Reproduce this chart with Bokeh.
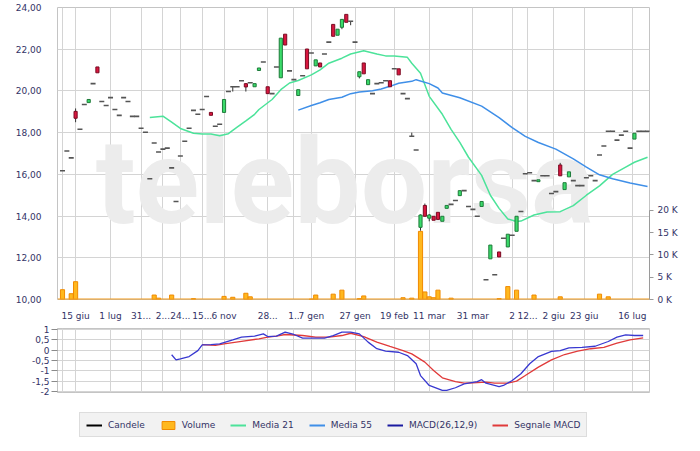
from bokeh.plotting import figure
from bokeh.models import (Range1d, LinearAxis, FixedTicker, Span, Legend, LegendItem, Label)
from bokeh.layouts import column
from bokeh.embed import file_html
from bokeh.resources import INLINE

# ---------------- data ----------------
opens = [16.17, 17.12, 16.79, 19.02, 18.16, 19.35, 19.44, 20.35, 21.15, 19.49,
         19.30, 19.68, 19.11, 18.83, 19.68, 19.49, 18.78, 18.78, 18.21, 18.02,
         15.79, 17.50, 17.07, 17.21, 17.26, 16.31, 14.70, 16.88, 17.59, 18.21,
         19.07, 18.88, 19.11, 19.73, 18.97, 18.31, 18.40, 18.97, 19.97, 20.20,
         20.20, 20.49, 20.35, 20.39, 20.20, 20.98, 21.39, 20.20, 19.87, 21.15,
         20.63, 22.72, 20.96, 20.54, 19.78, 20.73, 22.01, 21.82, 21.20, 21.34,
         21.77, 22.34, 23.19, 22.67, 23.05, 23.67, 23.34, 22.34, 20.68, 21.34,
         20.30, 19.87, 20.35, 20.39, 20.49, 20.49, 21.06, 21.06, 19.87, 19.63,
         17.83, 17.17, 13.46, 14.51, 13.90, 13.99, 14.18, 13.75, 14.37, 14.56,
         14.75, 14.98, 15.22, 14.46, 14.32, 13.99, 14.46, 10.95, 11.95, 11.19,
         12.28, 12.94, 12.52, 13.08, 13.27, 14.22, 16.03, 16.08, 15.70, 15.65,
         15.93, 15.93, 15.08, 15.17, 16.45, 15.27, 15.88, 15.70, 15.46, 15.46,
         15.84, 15.93, 15.70, 16.93, 17.36, 18.07, 18.07, 17.64, 17.88, 18.07,
         17.26, 17.69, 18.07, 18.07, 18.07]
closes = [16.17, 17.12, 16.79, 18.69, 18.16, 19.35, 19.59, 20.35, 20.87, 19.49,
          19.30, 19.68, 19.11, 18.83, 19.68, 19.49, 18.78, 18.78, 18.21, 18.02,
          15.79, 17.50, 17.07, 17.21, 17.26, 16.31, 14.70, 16.88, 17.59, 18.21,
          19.07, 18.88, 19.11, 19.73, 18.83, 18.31, 18.40, 19.59, 19.97, 20.20,
          20.20, 20.49, 20.19, 20.39, 20.35, 21.10, 21.39, 19.87, 19.87, 21.15,
          22.53, 22.20, 20.96, 20.54, 20.06, 20.73, 21.06, 21.82, 21.49, 21.15,
          21.77, 22.34, 22.62, 22.96, 23.43, 23.29, 23.34, 22.34, 20.92, 20.82,
          20.54, 19.87, 20.35, 20.39, 20.49, 20.20, 21.06, 20.77, 19.87, 19.63,
          17.83, 17.17, 14.05, 13.99, 14.05, 13.80, 13.84, 13.99, 14.51, 14.56,
          14.75, 15.22, 15.22, 14.46, 14.32, 13.99, 14.70, 10.95, 12.61, 11.19,
          12.04, 12.94, 13.13, 13.08, 13.99, 14.22, 16.03, 16.08, 15.70, 15.74,
          15.93, 15.93, 15.08, 15.17, 15.93, 15.60, 16.12, 15.70, 15.46, 15.46,
          15.84, 15.93, 15.70, 16.93, 17.36, 18.07, 18.07, 17.64, 17.88, 18.07,
          17.26, 17.97, 18.07, 18.07, 18.07]
high_wicks = {3: 19.16, 80: 18.00, 82: 14.08, 83: 14.60, 84: 14.10, 114: 16.55}
low_wicks = {3: 18.50, 39: 19.97, 42: 19.97, 64: 22.96, 66: 23.15, 68: 20.60, 82: 13.30, 84: 13.75}

volumes = [2200, 0, 1300, 4000, 0, 0, 0, 0, 0, 0, 0, 0, 0, 0, 0,
           0, 0, 0, 0, 0, 0, 1000, 300, 0, 0, 1000, 0, 0, 0, 0,
           200, 0, 0, 0, 0, 0, 0, 700, 0, 500, 0, 0, 1400, 600, 0,
           0, 0, 0, 0, 0, 0, 0, 0, 0, 0, 0, 0, 100, 1000, 0,
           0, 0, 1200, 0, 2100, 0, 0, 0, 200, 800, 0, 0, 0, 0, 0,
           0, 0, 0, 400, 0, 300, 0, 15300, 1700, 600, 400, 2100, 0, 0, 300,
           0, 0, 0, 0, 0, 0, 0, 0, 0, 0, 200, 0, 2900, 0, 2100,
           0, 0, 0, 1000, 0, 0, 0, 0, 0, 600, 0, 0, 0, 0, 0,
           0, 0, 0, 1200, 0, 600, 0, 0, 0, 0, 0, 0, 0, 0, 0]

ma21_idx = [20, 23, 25, 27, 30, 32, 34, 36, 38, 40, 42, 44, 45, 48, 50, 52, 54, 57, 59, 61,
            64, 66, 69, 72, 74, 76, 79, 80, 82, 84, 87, 89, 91, 93, 96, 98, 100, 102, 104, 105,
            108, 111, 114, 117, 120, 123, 126, 129, 131, 134]
ma21_val = [18.73, 18.79, 18.50, 18.20, 17.97, 17.93, 17.93, 17.85, 17.95, 18.26, 18.56, 18.88,
            19.11, 19.59, 20.06, 20.38, 20.50, 20.77, 21.01, 21.33, 21.57, 21.77, 21.93, 21.77,
            21.68, 21.68, 21.61, 21.33, 20.85, 19.74, 18.88, 18.16, 17.53, 16.82, 15.95, 15.00,
            14.37, 13.86, 13.74, 13.76, 14.05, 14.20, 14.21, 14.50, 15.00, 15.45, 16.00, 16.35,
            16.58, 16.82]
ma55_idx = [54, 57, 59, 61, 64, 66, 68, 71, 73, 75, 77, 80, 81, 84, 86, 87, 91, 96, 100, 103,
            106, 109, 113, 117, 120, 123, 126, 130, 134]
ma55_val = [19.08, 19.30, 19.43, 19.59, 19.70, 19.87, 19.95, 20.01, 20.09, 20.22, 20.37, 20.46,
            20.54, 20.35, 20.14, 19.90, 19.67, 19.27, 18.72, 18.24, 17.82, 17.53, 17.21, 16.74,
            16.35, 15.98, 15.79, 15.59, 15.42]

macd_idx = [25, 26, 27, 29, 31, 32, 34, 36, 39, 41, 44, 46, 47, 49, 51, 53, 55, 58, 60, 62,
            64, 66, 68, 70, 72, 74, 77, 79, 81, 82, 84, 87, 88, 90, 92, 95, 96, 97, 100, 101,
            103, 105, 107, 109, 112, 114, 116, 119, 122, 125, 127, 129, 131, 133]
macd_val = [-0.22, -0.47, -0.42, -0.31, -0.02, 0.26, 0.27, 0.31, 0.50, 0.63, 0.68, 0.79, 0.66,
            0.68, 0.87, 0.76, 0.58, 0.58, 0.58, 0.71, 0.87, 0.87, 0.79, 0.39, 0.07, -0.05, -0.10,
            -0.26, -0.66, -1.23, -1.71, -1.95, -1.95, -1.82, -1.63, -1.52, -1.43, -1.60, -1.76,
            -1.71, -1.47, -1.14, -0.66, -0.31, -0.06, -0.02, 0.11, 0.14, 0.19, 0.42, 0.63, 0.74,
            0.71, 0.71]
sig_idx = [32, 35, 37, 41, 45, 47, 49, 51, 55, 58, 61, 64, 66, 69, 72, 75, 78, 80, 83, 85,
           87, 90, 92, 94, 97, 99, 102, 104, 106, 109, 112, 115, 118, 121, 124, 127, 130, 133]
sig_val = [0.27, 0.23, 0.31, 0.43, 0.55, 0.63, 0.68, 0.76, 0.71, 0.63, 0.63, 0.71, 0.82, 0.66,
           0.39, 0.18, -0.02, -0.18, -0.58, -0.98, -1.34, -1.52, -1.60, -1.58, -1.55, -1.60,
           -1.60, -1.50, -1.23, -0.82, -0.47, -0.21, -0.05, 0.07, 0.14, 0.34, 0.50, 0.60]

x_ticks = [0, 3, 11, 18, 23, 27, 32, 37, 47, 53, 57, 67, 76, 84, 94, 103, 106.5, 112.5, 119.5, 130.5]
x_labels = ["", "15 giu", "1 lug", "31...", "2...", "24...", "15...", "6 nov", "28...", "1..",
            "7 gen", "27 gen", "19 feb", "11 mar", "31 mar", "2", "12...", "2 giu", "23 giu", "16 lug"]
price_ticks = [10, 12, 14, 16, 18, 20, 22, 24]
price_labels = ["10,00", "12,00", "14,00", "16,00", "18,00", "20,00", "22,00", "24,00"]
vol_ticks = [0, 5000, 10000, 15000, 20000]
vol_labels = ["0 K", "5 K", "10 K", "15 K", "20 K"]
macd_ticks = [-2, -1.5, -1, -0.5, 0, 0.5, 1]
macd_labels = ["-2", "-1,5", "-1", "-0,5", "0", "0,5", "1"]

# ---------------- styles ----------------
FONT = "DejaVu Sans"
TXT = "#333366"
GRID = "#D4D4D4"
FRAME = "#C4C4C4"
GREEN, GREEN_EDGE = "#3ADB6A", "#1E7A3A"
RED, RED_EDGE = "#D9163F", "#7A0A22"
C_MA21, C_MA55 = "#4CE39A", "#3F8FE8"
C_MACD, C_SIG = "#3838D0", "#E03A3A"
VOL_FILL, VOL_EDGE = "#FFB81E", "#F08A00"

xr = Range1d(-1.145, 134.45)

# ---------------- main chart ----------------
p = figure(width=700, height=323, x_range=xr, y_range=Range1d(10, 24),
           output_backend="svg", toolbar_location=None,
           min_border_left=57, min_border_right=51, min_border_top=7, min_border_bottom=21)
p.outline_line_color = FRAME
p.background_fill_color = "white"
p.border_fill_color = "white"
p.extra_y_ranges = {"vol": Range1d(0, 65560)}

lax = p.left[0]
lax.ticker = FixedTicker(ticks=price_ticks)
lax.major_label_overrides = dict(zip(price_ticks, price_labels))
lax.axis_line_color = None
lax.major_tick_line_color = None
lax.minor_tick_line_color = None
lax.major_label_standoff = 10
lax.major_label_text_font = FONT
lax.major_label_text_font_size = "9px"
lax.major_label_text_color = TXT

bax = p.below[0]
bax.ticker = FixedTicker(ticks=x_ticks)
bax.major_label_overrides = dict(zip(x_ticks, x_labels))
bax.axis_line_color = None
bax.major_tick_line_color = None
bax.minor_tick_line_color = None
bax.major_label_standoff = 5
bax.major_label_text_font = FONT
bax.major_label_text_font_size = "9px"
bax.major_label_text_color = TXT

vax = LinearAxis(y_range_name="vol", ticker=FixedTicker(ticks=vol_ticks), bounds=(0, 20000))
vax.major_label_overrides = dict(zip(vol_ticks, vol_labels))
vax.axis_line_color = "#9A9A9A"
vax.major_tick_line_color = "#9A9A9A"
vax.major_tick_out = 4
vax.major_tick_in = 0
vax.minor_tick_line_color = None
vax.major_label_standoff = 4
vax.major_label_text_font = FONT
vax.major_label_text_font_size = "9px"
vax.major_label_text_color = TXT
p.add_layout(vax, "right")

p.xgrid.grid_line_color = GRID
p.ygrid.grid_line_color = GRID

# watermark
wm = Label(x=7.6, y=15.6, text="teleborsa", text_font="Roboto",
           text_font_size="118px", text_font_style="bold", text_color="#ececec",
           text_baseline="middle", level="underlay")
p.add_layout(wm)

# volume
vi = [i for i, v in enumerate(volumes) if v > 0]
vv = [volumes[i] for i in vi]
p.vbar(x=vi, top=vv, bottom=0, width=0.95, y_range_name="vol",
       fill_color=VOL_FILL, line_color=VOL_EDGE, line_width=1)
p.add_layout(Span(location=0, dimension="width", y_range_name="vol",
                  line_color="#F29A1A", line_width=2))

# moving averages
p.line(ma21_idx, ma21_val, line_color=C_MA21, line_width=1.5)
p.line(ma55_idx, ma55_val, line_color=C_MA55, line_width=1.5)

# candles
idx = list(range(len(opens)))
hi = [max(opens[i], closes[i], high_wicks.get(i, opens[i])) for i in idx]
lo = [min(opens[i], closes[i], low_wicks.get(i, opens[i])) for i in idx]
wk = [i for i in idx if i in high_wicks or i in low_wicks]
p.segment(x0=wk, y0=[lo[i] for i in wk], x1=wk, y1=[hi[i] for i in wk],
          line_color="#333333", line_width=1)
up = [i for i in idx if closes[i] > opens[i]]
dn = [i for i in idx if closes[i] < opens[i]]
fl = [i for i in idx if closes[i] == opens[i]]
p.vbar(x=up, bottom=[opens[i] for i in up], top=[closes[i] for i in up], width=0.72,
       fill_color=GREEN, line_color=GREEN_EDGE, line_width=1)
p.vbar(x=dn, bottom=[closes[i] for i in dn], top=[opens[i] for i in dn], width=0.72,
       fill_color=RED, line_color=RED_EDGE, line_width=1)
p.scatter(x=fl, y=[closes[i] for i in fl], marker="dash", size=5,
          line_color="#555555", line_width=1.6)

# ---------------- MACD panel ----------------
p2 = figure(width=700, height=77, x_range=xr, y_range=Range1d(-2.05, 1.05),
            output_backend="svg", toolbar_location=None,
            min_border_left=57, min_border_right=51, min_border_top=5, min_border_bottom=8)
p2.outline_line_color = FRAME
p2.xaxis.visible = False
p2.xgrid.ticker = FixedTicker(ticks=x_ticks)
p2.xgrid.grid_line_color = GRID
p2.ygrid.grid_line_color = GRID
ay = p2.left[0]
ay.ticker = FixedTicker(ticks=macd_ticks)
ay.major_label_overrides = dict(zip(macd_ticks, macd_labels))
ay.axis_line_color = FRAME
ay.major_tick_line_color = "#8A8A8A"
ay.major_tick_out = 6
ay.major_tick_in = 0
ay.minor_tick_line_color = None
ay.major_label_standoff = 2
ay.major_label_text_font = FONT
ay.major_label_text_font_size = "9px"
ay.major_label_text_color = TXT
p2.line(sig_idx, sig_val, line_color=C_SIG, line_width=1.3)
p2.line(macd_idx, macd_val, line_color=C_MACD, line_width=1.3)

# ---------------- legend strip ----------------
p3 = figure(width=700, height=51, x_range=Range1d(0, 1), y_range=Range1d(0, 1),
            output_backend="svg", toolbar_location=None,
            min_border_left=0, min_border_right=0, min_border_top=0, min_border_bottom=0,
            x_axis_location=None, y_axis_location=None)
p3.outline_line_color = None
p3.grid.visible = False
off = [-5, -4]
r1 = p3.line(off, off, line_color="black", line_width=2)
r2 = p3.vbar(x=[-5], top=[-4], bottom=[-5], width=1, fill_color=VOL_FILL, line_color=VOL_EDGE)
r3 = p3.line(off, off, line_color=C_MA21, line_width=2)
r4 = p3.line(off, off, line_color=C_MA55, line_width=2)
r5 = p3.line(off, off, line_color="#1A1AA0", line_width=2)
r6 = p3.line(off, off, line_color=C_SIG, line_width=2)
leg = Legend(items=[LegendItem(label="Candele", renderers=[r1]),
                    LegendItem(label="Volume", renderers=[r2]),
                    LegendItem(label="Media 21", renderers=[r3]),
                    LegendItem(label="Media 55", renderers=[r4]),
                    LegendItem(label="MACD(26,12,9)", renderers=[r5]),
                    LegendItem(label="Segnale MACD", renderers=[r6])],
             location=(22, 14), orientation="horizontal")
leg.label_text_font = FONT
leg.label_text_font_size = "9px"
leg.label_text_color = TXT
leg.glyph_width = 16
leg.glyph_height = 10
leg.label_height = 11
leg.label_standoff = 6
leg.spacing = 15
leg.padding = 6
leg.margin = 0
leg.background_fill_color = "#F2F2F2"
leg.background_fill_alpha = 1
leg.border_line_color = "#C8C8C8"
p3.add_layout(leg)

layout = column(p, p2, p3, spacing=0)
open("out.html", "w").write(file_html(layout, INLINE))
